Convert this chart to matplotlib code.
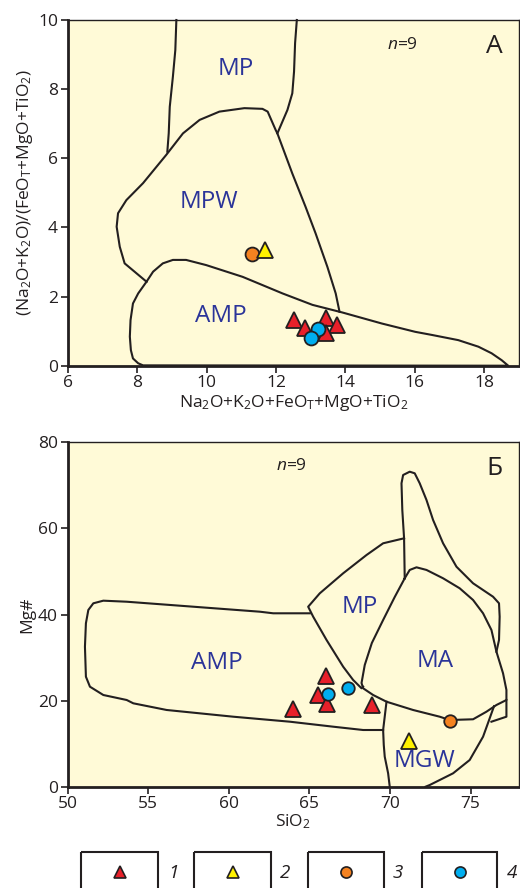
import matplotlib
matplotlib.use("Agg")
import matplotlib.pyplot as plt
from matplotlib.patches import Rectangle

plt.rcParams['font.family'] = ['Open Sans', 'DejaVu Sans']
plt.rcParams['mathtext.fontset'] = 'custom'
plt.rcParams['mathtext.rm'] = 'Open Sans'
plt.rcParams['mathtext.it'] = 'Open Sans:italic'
plt.rcParams['mathtext.bf'] = 'Open Sans:bold'

# ---------------- data: panel A ----------------
a_grp1_x = [12.52, 12.84, 13.45, 13.76, 13.43]
a_grp1_y = [1.32, 1.08, 1.37, 1.18, 0.95]
a_grp2_x = [11.68]
a_grp2_y = [3.35]
a_grp3_x = [11.30]
a_grp3_y = [3.23]
a_grp4_x = [13.21, 13.02]
a_grp4_y = [1.06, 0.79]

a_mp_left_x = [9.13, 9.10, 9.03, 8.94, 8.91, 8.87]
a_mp_left_y = [10.0, 9.13, 8.36, 7.49, 6.72, 6.19]
a_mp_right_x = [12.60, 12.55, 12.52, 12.47, 12.33, 12.04]
a_mp_right_y = [10.0, 9.33, 8.51, 7.88, 7.40, 6.72]
a_mpw_x = [8.27, 7.64, 7.50, 7.41, 7.45, 7.69, 8.17, 8.84, 9.32, 9.80, 10.37,
           11.09, 11.61, 11.76, 11.99, 12.04, 12.47, 12.85, 13.14, 13.48, 13.72, 13.83]
a_mpw_y = [2.43, 2.96, 3.44, 4.02, 4.41, 4.79, 5.28, 6.10, 6.72, 7.11, 7.35,
           7.45, 7.43, 7.35, 6.82, 6.72, 5.56, 4.60, 3.83, 2.86, 2.09, 1.56]
a_amp_x = [8.27, 8.03, 7.88, 7.81, 7.79, 7.82, 7.88, 8.03, 8.17, 18.69, 18.50,
           18.21, 17.83, 17.25, 16.49, 16.01, 15.05, 13.91, 13.05, 12.19, 11.04,
           9.99, 9.41, 9.03, 8.74, 8.46, 8.27]
a_amp_y = [2.43, 2.09, 1.80, 1.32, 0.84, 0.45, 0.21, 0.07, 0.01, 0.0, 0.16,
           0.36, 0.55, 0.74, 0.89, 0.98, 1.22, 1.54, 1.76, 2.09, 2.57,
           2.91, 3.06, 3.06, 2.96, 2.72, 2.43]
a_labels = ['MP', 'MPW', 'AMP']
a_label_x = [10.83, 10.06, 10.42]
a_label_y = [8.57, 4.74, 1.44]
a_xticks = [6, 8, 10, 12, 14, 16, 18]
a_yticks = [0, 2, 4, 6, 8, 10]

# ---------------- data: panel B ----------------
b_grp1_x = [66.01, 65.54, 66.06, 63.99, 68.85]
b_grp1_y = [25.71, 21.30, 19.21, 18.05, 18.98]
b_grp2_x = [71.18]
b_grp2_y = [10.69]
b_grp3_x = [73.70]
b_grp3_y = [15.26]
b_grp4_x = [66.12, 67.40]
b_grp4_y = [21.46, 22.86]

b_amp_x = [65.02, 62.75, 61.92, 57.79, 53.66, 52.21, 51.59, 51.28, 51.13, 51.07,
           51.13, 51.38, 52.21, 53.66, 54.07, 56.14, 60.27, 63.78, 66.47, 68.33, 69.57]
b_amp_y = [40.28, 40.28, 40.65, 41.81, 42.97, 43.21, 42.60, 41.05, 37.96, 32.52,
           25.55, 23.23, 21.30, 20.14, 19.37, 17.82, 16.26, 15.10, 13.94, 13.17, 13.17]
b_mp_x = [70.87, 69.57, 68.54, 67.09, 65.64, 64.92, 65.23, 66.06, 67.09, 67.71, 68.23, 68.33]
b_mp_y = [57.70, 56.54, 53.82, 49.57, 44.92, 41.81, 39.49, 34.08, 27.88, 24.79, 22.86, 23.23]
b_ma_x = [70.91, 71.22, 71.64, 72.26, 73.29, 74.32, 75.15, 75.77, 76.29, 76.60,
          77.01, 77.22, 77.22, 76.60, 75.98, 75.15, 73.70, 73.08, 71.43, 69.78,
          68.95, 68.33, 68.23, 68.43, 68.87, 69.57, 70.29, 70.91]
b_ma_y = [48.41, 50.35, 50.96, 50.35, 48.41, 46.09, 43.37, 40.28, 36.40, 31.36,
          26.34, 22.46, 20.14, 18.98, 17.42, 15.66, 15.49, 16.26, 17.82, 19.74,
          21.30, 22.86, 24.09, 28.27, 33.38, 38.72, 44.07, 48.41]
b_spike_x = [70.91, 70.87, 70.76, 70.71, 70.81, 71.22, 71.53, 71.84, 72.26, 72.67,
             73.29, 74.12, 75.15, 76.39, 76.76, 76.80, 76.76, 76.60]
b_spike_y = [48.41, 57.70, 64.27, 70.48, 72.40, 73.17, 72.80, 70.48, 66.60, 61.95,
             56.54, 51.10, 47.25, 44.13, 42.60, 39.49, 34.08, 31.36]
b_tail_x = [77.22, 77.22, 76.29]
b_tail_y = [20.14, 16.26, 15.10]
b_mgw_left_x = [69.78, 69.57, 69.61, 69.67, 69.88, 69.98]
b_mgw_left_y = [19.74, 13.17, 9.69, 6.97, 3.11, 0.0]
b_mgw_right_x = [76.45, 76.10, 75.77, 74.94, 73.91, 72.46, 72.20]
b_mgw_right_y = [18.70, 15.03, 11.61, 6.20, 3.11, 0.39, 0.0]
b_labels = ['AMP', 'MP', 'MA', 'MGW']
b_label_x = [59.27, 68.12, 72.77, 72.15]
b_label_y = [28.8, 41.67, 29.27, 6.04]
b_xticks = [50, 55, 60, 65, 70, 75]
b_yticks = [0, 20, 40, 60, 80]

legend_labels = ['1', '2', '3', '4']

# ---------------- styles ----------------
FACE = '#FFFAD7'
INK = '#231F20'
BLUE_TXT = '#2B3499'
C1, C2, C3, C4 = '#E8202A', '#FFF200', '#F58220', '#00AEEF'
LW = 1.5

fig = plt.figure(figsize=(5.2, 8.88), dpi=100)
fig.patch.set_facecolor('white')

W, H = 520.0, 888.0
def pos(l, t, r, b):
    return [l / W, 1 - b / H, (r - l) / W, (b - t) / H]

axA = fig.add_axes(pos(67.7, 20, 519, 365.7))
axB = fig.add_axes(pos(67.7, 442.3, 519, 786.7))

def style(ax):
    ax.set_facecolor(FACE)
    for s in ['left', 'bottom']:
        ax.spines[s].set_linewidth(2.0)
        ax.spines[s].set_color(INK)
    for s in ['top', 'right']:
        ax.spines[s].set_linewidth(1.0)
        ax.spines[s].set_color(INK)
    ax.tick_params(direction='out', length=5, width=1.2, colors=INK,
                   labelsize=12.5, pad=2)

def tri(ax, x, y, c, ms):
    ax.plot(x, y, ls='none', marker='^', ms=ms, mfc=c, mec=INK, mew=1.3, zorder=5)

def circ(ax, x, y, c, ms):
    ax.plot(x, y, ls='none', marker='o', ms=ms, mfc=c, mec=INK, mew=1.3, zorder=5)

# ---- panel A ----
style(axA)
axA.set_xlim(6, 19)
axA.set_ylim(0, 10)
axA.set_xticks(a_xticks)
axA.set_yticks(a_yticks)
for xs, ys in [(a_mp_left_x, a_mp_left_y), (a_mp_right_x, a_mp_right_y),
               (a_mpw_x, a_mpw_y), (a_amp_x, a_amp_y)]:
    axA.plot(xs, ys, color=INK, lw=LW, zorder=2, clip_on=False)
for t, x, y in zip(a_labels, a_label_x, a_label_y):
    axA.text(x, y, t, color=BLUE_TXT, fontsize=17.5, ha='center', va='center')
circ(axA, a_grp3_x, a_grp3_y, C3, 10)
tri(axA, a_grp2_x, a_grp2_y, C2, 12)
tri(axA, a_grp1_x, a_grp1_y, C1, 12)
circ(axA, a_grp4_x, a_grp4_y, C4, 10)
axA.text(15.63, 9.28, '$n$=9', fontsize=12.5, color=INK, ha='center', va='center')
axA.text(18.3, 9.23, 'А', fontsize=19, color=INK, ha='center', va='center')
axA.set_xlabel(r'Na$_2$O+K$_2$O+FeO$_\mathrm{T}$+MgO+TiO$_2$', fontsize=12.5,
               color=INK, labelpad=1)
axA.set_ylabel(r'(Na$_2$O+K$_2$O)/(FeO$_\mathrm{T}$+MgO+TiO$_2$)', fontsize=12.5,
               color=INK, labelpad=2)

# ---- panel B ----
style(axB)
axB.set_xlim(50, 78)
axB.set_ylim(0, 80)
axB.set_xticks(b_xticks)
axB.set_yticks(b_yticks)
for xs, ys in [(b_amp_x, b_amp_y), (b_mp_x, b_mp_y), (b_ma_x, b_ma_y),
               (b_spike_x, b_spike_y), (b_tail_x, b_tail_y),
               (b_mgw_left_x, b_mgw_left_y), (b_mgw_right_x, b_mgw_right_y)]:
    axB.plot(xs, ys, color=INK, lw=LW, zorder=2)
for t, x, y in zip(b_labels, b_label_x, b_label_y):
    axB.text(x, y, t, color=BLUE_TXT, fontsize=17.5, ha='center', va='center')
tri(axB, b_grp1_x, b_grp1_y, C1, 11)
tri(axB, b_grp2_x, b_grp2_y, C2, 11)
circ(axB, b_grp3_x, b_grp3_y, C3, 9)
circ(axB, b_grp4_x, b_grp4_y, C4, 9)
axB.text(63.89, 74.57, '$n$=9', fontsize=12.5, color=INK, ha='center', va='center')
axB.text(76.49, 73.96, 'Б', fontsize=19, color=INK, ha='center', va='center')
axB.set_xlabel(r'SiO$_2$', fontsize=12.5, color=INK, labelpad=0)
axB.set_ylabel('Mg#', fontsize=12.5, color=INK, labelpad=2)

# ---- legend strip ----
axL = fig.add_axes([0, 0, 1, 48 / H])
axL.set_xlim(0, W)
axL.set_ylim(48, 0)
axL.axis('off')
box_l = [81, 194, 308, 422]
box_r = [158, 271, 384, 497]
lab_x = [173, 285, 398, 512]
styles = [('^', C1, 9), ('^', C2, 9), ('o', C3, 8), ('o', C4, 8)]
for l, r, lx, t, (m, c, ms) in zip(box_l, box_r, lab_x, legend_labels, styles):
    axL.add_patch(Rectangle((l, 12), r - l, 60, fill=False, ec=INK, lw=1.5,
                            clip_on=False))
    axL.plot([(l + r) / 2], [32], marker=m, ms=ms, mfc=c, mec=INK, mew=1.2,
             ls='none')
    axL.text(lx, 33, t, fontsize=13.5, style='italic', color=INK,
             ha='center', va='center')

fig.savefig('out.png', dpi=100, facecolor='white')
